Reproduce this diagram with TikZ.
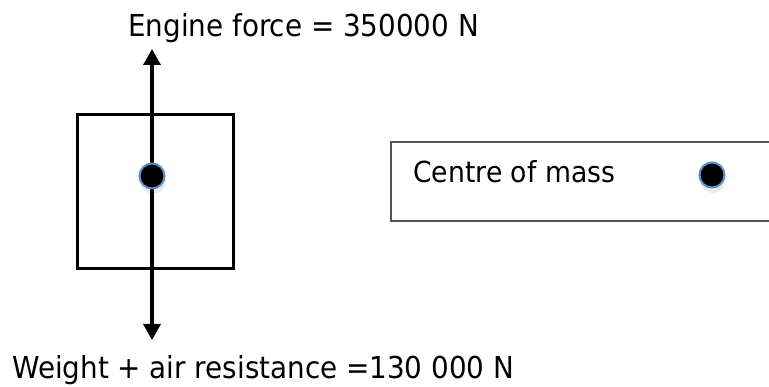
\documentclass[tikz,border=0pt]{standalone}
\usepackage{fontspec}
\setmainfont{DejaVu Sans}[FakeStretch=0.92]
\usetikzlibrary{arrows.meta}
\definecolor{dotblue}{HTML}{5B8FCC}
\definecolor{boxgray}{HTML}{555555}
\tikzset{
  lbl/.style={anchor=base west, inner sep=0pt, font=\fontsize{30.2}{34}\selectfont},
  force/.style={line width=3.2pt, -{Triangle[length=16pt,width=17pt]}},
  massdot/.style={circle, fill=black, draw=dotblue, line width=2pt, minimum size=25pt, inner sep=0pt},
  dotshadow/.style={circle, fill=black, opacity=0.08, minimum size=26pt, inner sep=0pt}
}
\begin{document}
\begin{tikzpicture}[x=1pt,y=-1pt]
\useasboundingbox (0,0) rectangle (769,387);
% body
\node[draw, line width=3pt, minimum width=156pt, minimum height=154pt, anchor=north west, inner sep=0pt] (body) at (76,113) {};
\coordinate (cm) at (152,176);
\coordinate (toptip) at (152,49);
\coordinate (bottip) at (152,340);
\draw[force] (cm) -- (toptip);
\draw[force] (cm) -- (bottip);
\node[dotshadow] (sh1) at (153,181) {};
\node[massdot] (dot) at (cm) {};
% labels
\node[lbl] (engine) at (128,37) {Engine force = 350000 N};
\node[lbl] (weight) at (12,379) {Weight + air resistance =130 000 N};
% legend
\node[draw=boxgray, line width=2pt, minimum width=390pt, minimum height=79pt, anchor=north west, inner sep=0pt] (legend) at (390,141) {};
\node[lbl, font=\fontsize{29}{33}\selectfont] (cmtext) at (413,183) {Centre of mass};
\node[dotshadow] (sh2) at (713,180) {};
\node[massdot] (legdot) at (712,175) {};
\end{tikzpicture}
\end{document}
